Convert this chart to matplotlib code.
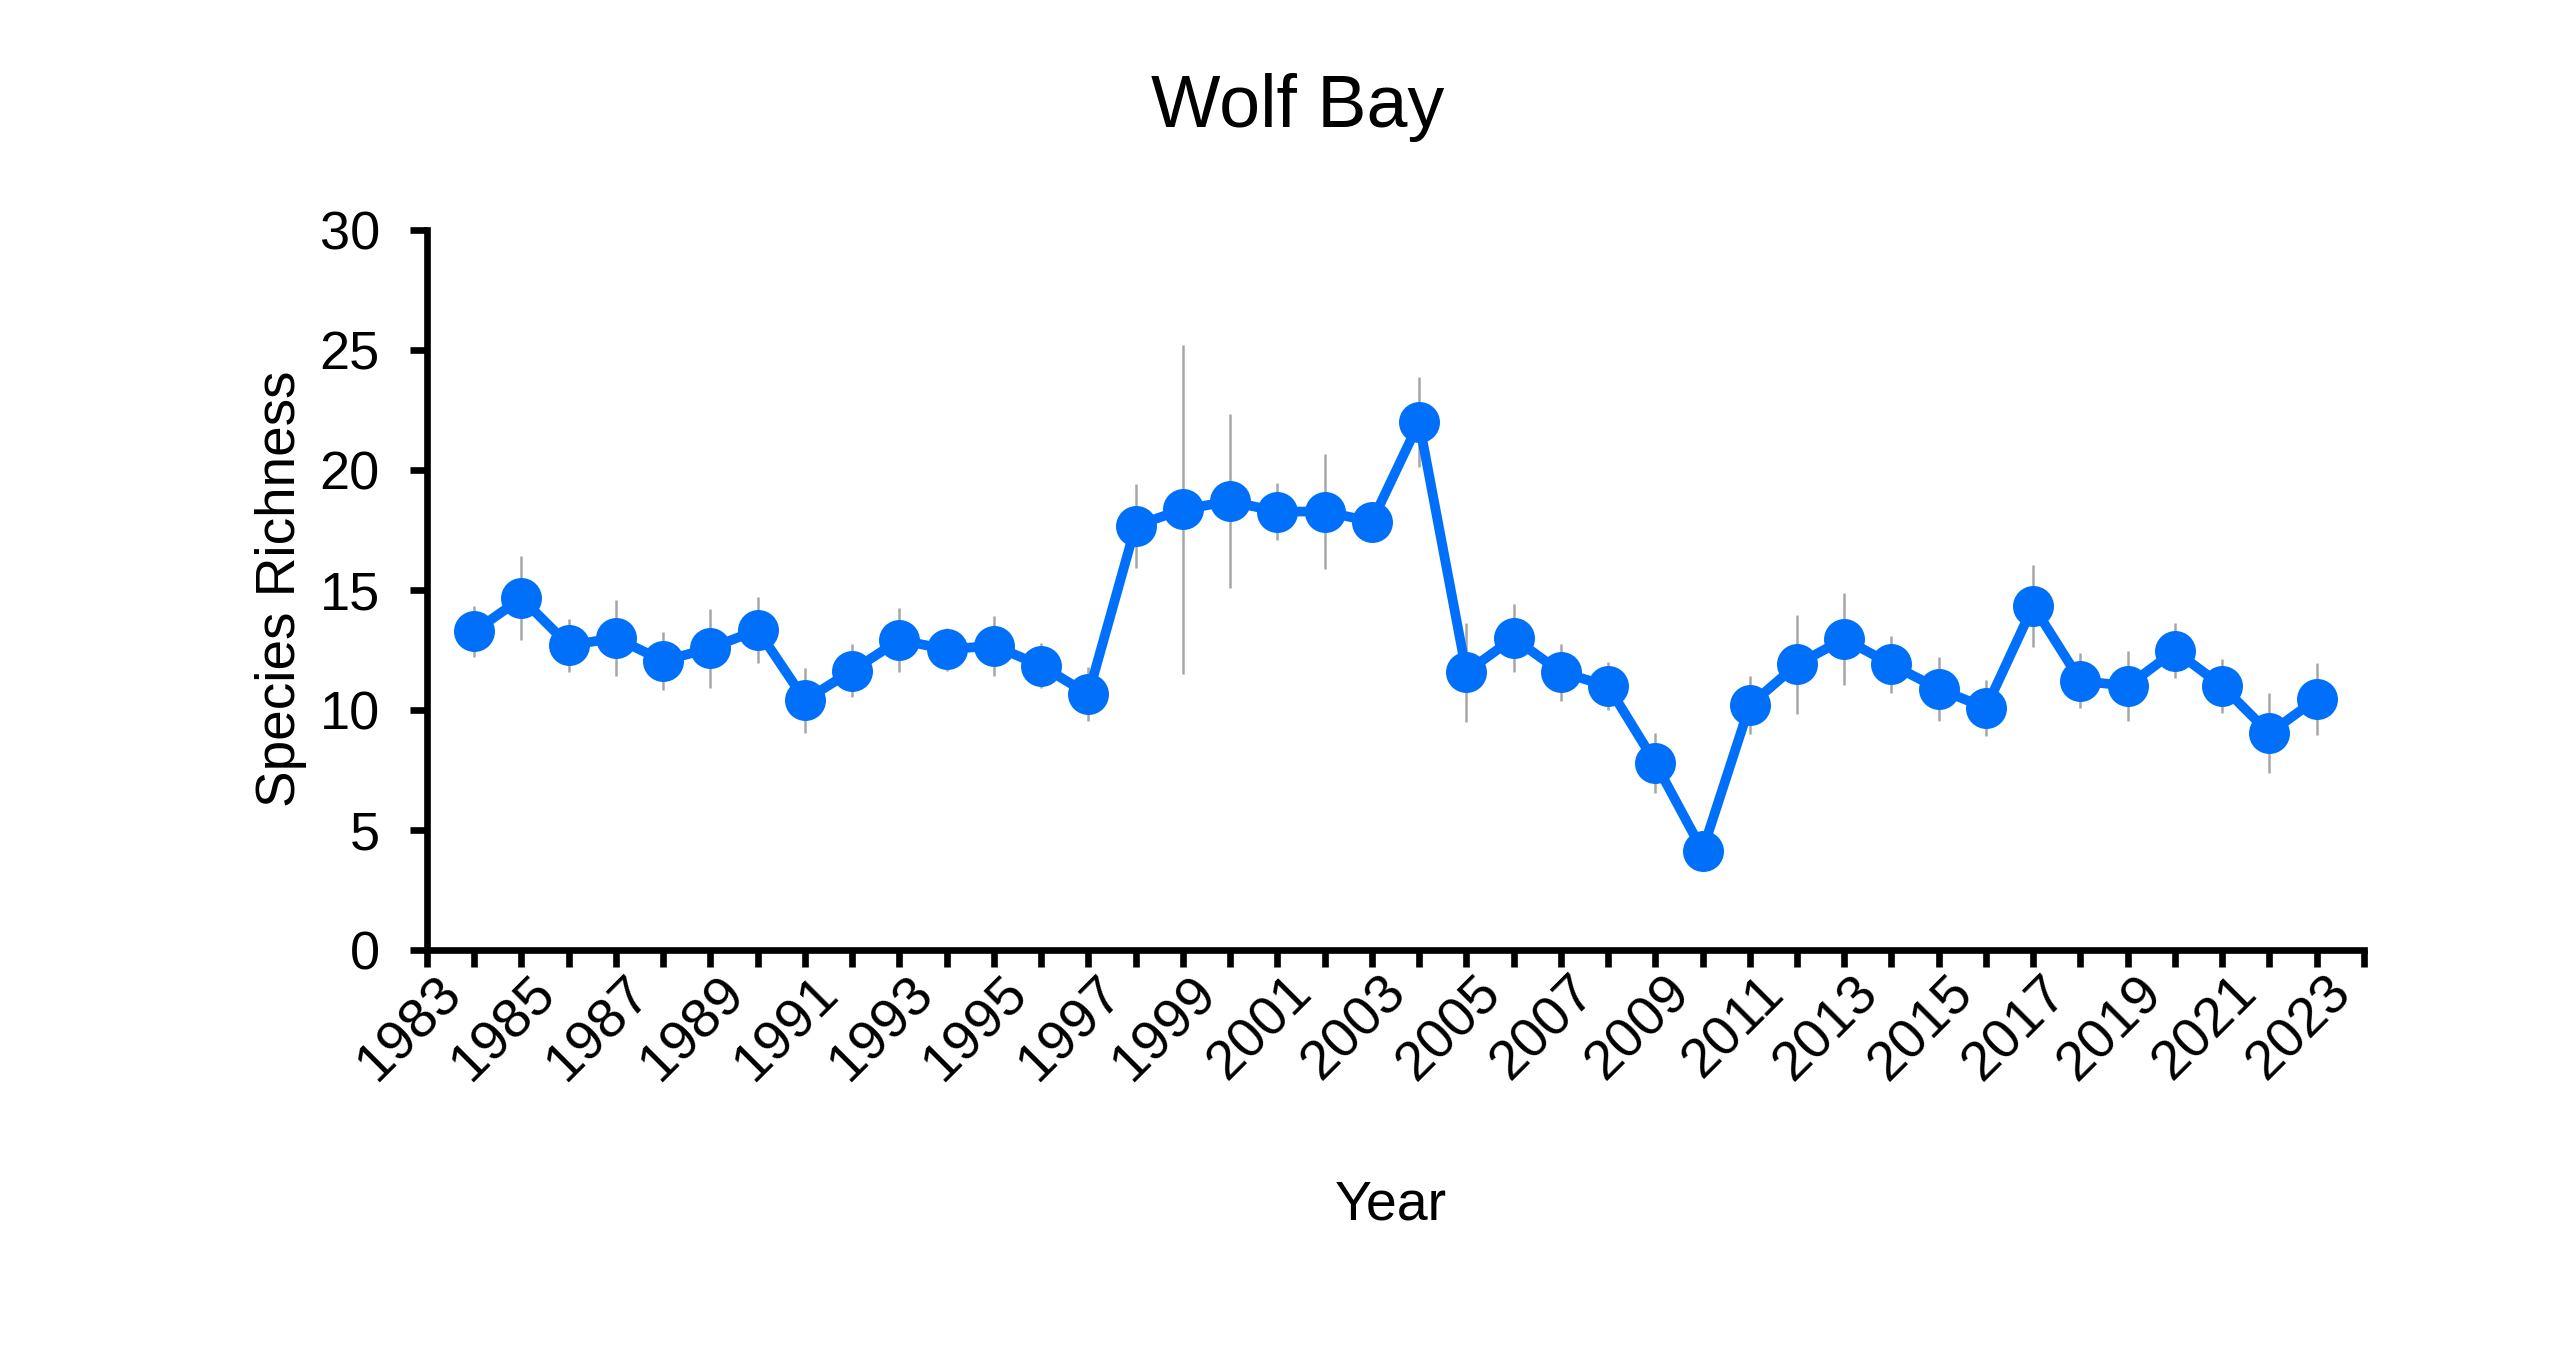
import numpy as np
import matplotlib
matplotlib.use("Agg")
import matplotlib.pyplot as plt
import matplotlib.transforms as mtransforms

plt.rcParams['font.family'] = ['Liberation Sans', 'DejaVu Sans']

# survey years and mean species richness with error (+/-)
years = list(range(1984, 2024))
richness = [13.28, 14.66, 12.7, 13.0, 12.05, 12.58, 13.34, 10.41, 11.64, 12.92,
            12.53, 12.68, 11.85, 10.66, 17.68, 18.36, 18.7, 18.27, 18.27, 17.85,
            21.99, 11.58, 13.0, 11.58, 11.0, 7.8, 4.14, 10.2, 11.9, 12.96,
            11.9, 10.88, 10.09, 14.34, 11.22, 11.0, 12.47, 11.0, 9.03, 10.47]
err = [1.06, 1.74, 1.1, 1.6, 1.2, 1.65, 1.36, 1.35, 1.1, 1.33,
       0.9, 1.25, 0.93, 1.13, 1.75, 6.87, 3.63, 1.17, 2.38, 0.4,
       1.88, 2.06, 1.43, 1.19, 1.0, 1.25, 0.3, 1.2, 2.05, 1.92,
       1.17, 1.32, 1.17, 1.7, 1.15, 1.47, 1.15, 1.13, 1.67, 1.5]
tick_years = list(range(1983, 2024, 2))

fig = plt.figure(figsize=(25.6, 13.58), dpi=100)
ax = fig.add_axes([0.1668, 0.3004, 0.7566, 0.5302])

ax.errorbar(years, richness, yerr=err, fmt='none', ecolor='#A6A6A6',
            elinewidth=1.8, capsize=0, zorder=1)
ax.plot(years, richness, color='#0070FA', linewidth=7, marker='o',
        markersize=29.5, markeredgewidth=0, zorder=2)

ax.set_xlim(1983, 2024)
ax.set_ylim(0, 30)
ax.set_yticks(range(0, 31, 5))
ax.set_xticks(range(1983, 2025))
ax.set_xticklabels([str(y) if y in tick_years else '' for y in range(1983, 2025)])

for s in ['top', 'right']:
    ax.spines[s].set_visible(False)
for s in ['left', 'bottom']:
    ax.spines[s].set_linewidth(4.8)

ax.tick_params(axis='both', direction='out', length=12, width=4.8,
               color='black')
ax.tick_params(axis='y', pad=22, labelsize=39)
ax.tick_params(axis='x', pad=0, labelsize=40)

# nudge the slanted year labels a little to the right of their ticks
shift = mtransforms.ScaledTranslation(0.08, 0, fig.dpi_scale_trans)
for lab in ax.get_xticklabels():
    lab.set_rotation(45)
    lab.set_ha('right')
    lab.set_va('top')
    lab.set_rotation_mode('anchor')
    lab.set_transform(lab.get_transform() + shift)

ax.set_ylabel('Species Richness', fontsize=39.5)
ax.yaxis.set_label_coords(281 / 2560, 1 - 589 / 1358, transform=fig.transFigure)
ax.yaxis.label.set_va('center')
fig.text(1391 / 2560, 1 - 1205 / 1358, 'Year', fontsize=40, ha='center', va='center')
fig.text(1298 / 2560, 1 - 108 / 1358, 'Wolf Bay', fontsize=53, ha='center', va='center')

fig.savefig('out.png', dpi=100, facecolor='white')
